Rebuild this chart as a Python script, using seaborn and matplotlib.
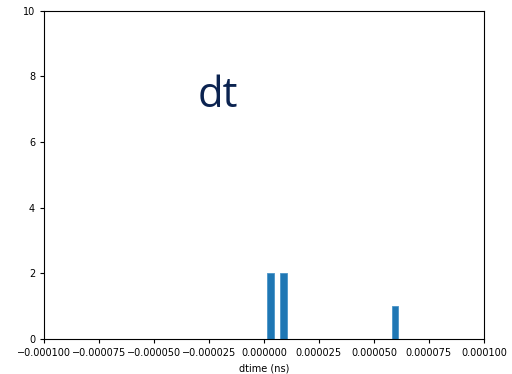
import matplotlib
matplotlib.use("Agg")
import matplotlib.pyplot as plt
import seaborn as sns
import numpy as np

# dtime samples (ns)
dtime = [1.4e-6, 2.6e-6, 7.6e-6, 8.8e-6, 6.1e-5]
n_bins = 20
x_range = (-0.0001, 0.0001)
y_range = (0, 10)

fig, ax = plt.subplots(figsize=(5.12, 3.74), dpi=100)
fig.subplots_adjust(left=0.086, right=0.945, top=0.971, bottom=0.094)

sns.histplot(x=dtime, bins=n_bins, color="#1f77b4", alpha=1.0,
             edgecolor="#4a94c8", linewidth=0.6, ax=ax)

ax.set_xlim(*x_range)
ax.set_ylim(*y_range)
ax.set_xticks(np.linspace(x_range[0], x_range[1], 9))
ax.set_xticklabels([f"{v:.6f}".replace("-", "\u2212") for v in np.linspace(x_range[0], x_range[1], 9)])
ax.set_xlabel("dtime (ns)", fontsize=7)
ax.set_ylabel("")
ax.tick_params(labelsize=7, length=3)
for s in ax.spines.values():
    s.set_linewidth(0.8)

ax.text(-0.000021, 7.4, "dt", fontsize=30, color="#0b2350",
        ha="center", va="center", family="Open Sans")

fig.savefig("out.png", dpi=100)
